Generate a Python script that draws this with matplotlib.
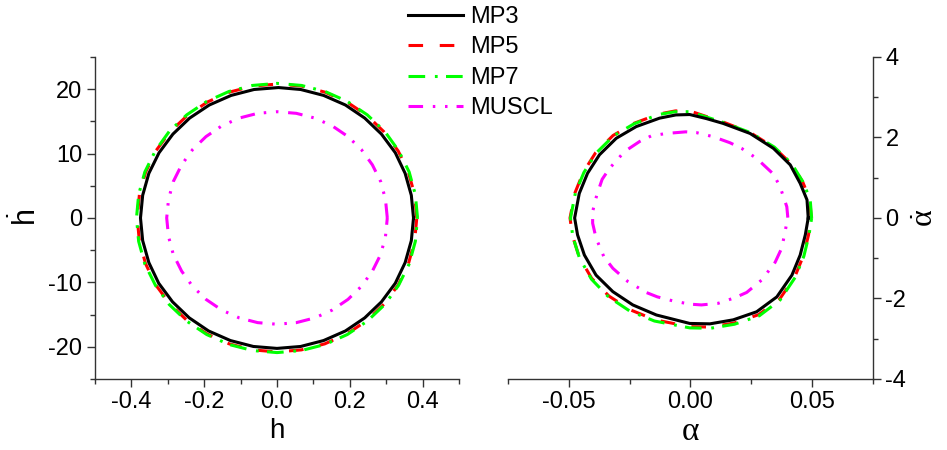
import matplotlib
matplotlib.use("Agg")
import matplotlib.pyplot as plt
from matplotlib.ticker import MultipleLocator, FixedLocator

plt.rcParams['font.family'] = ['Liberation Sans', 'DejaVu Sans']
plt.rcParams['axes.unicode_minus'] = False
plt.rcParams['lines.scale_dashes'] = False
plt.rcParams['mathtext.fontset'] = 'custom'
plt.rcParams['mathtext.rm'] = 'Liberation Sans'
plt.rcParams['mathtext.it'] = 'Liberation Serif'

# ---- left panel: h vs h-dot ----
h_mp3 = [0.375, 0.369, 0.352, 0.325, 0.287, 0.241, 0.188, 0.128, 0.065,
         0.004, -0.063, -0.126, -0.186, -0.240, -0.286, -0.324, -0.352, -0.369,
         -0.375, -0.369, -0.352, -0.325, -0.287, -0.241, -0.188, -0.128, -0.065,
         0.000, 0.065, 0.128, 0.188, 0.241, 0.287, 0.325, 0.352, 0.369]
hd_mp3 = [0.0, 3.52, 6.93, 10.13, 13.02, 15.51, 17.54, 19.03, 19.95,
          20.25, 19.95, 19.03, 17.54, 15.51, 13.02, 10.13, 6.93, 3.52,
          0.0, -3.52, -6.93, -10.13, -13.02, -15.51, -17.54, -19.03, -19.95,
          -20.25, -19.95, -19.03, -17.54, -15.51, -13.02, -10.13, -6.93, -3.52]
h_mp5 = [0.384, 0.378, 0.361, 0.333, 0.294, 0.247, 0.192, 0.131, 0.067,
         0.002, -0.066, -0.130, -0.191, -0.246, -0.294, -0.333, -0.361, -0.378,
         -0.384, -0.378, -0.361, -0.333, -0.294, -0.247, -0.192, -0.131, -0.067,
         0.000, 0.067, 0.131, 0.192, 0.247, 0.294, 0.333, 0.361, 0.378]
hd_mp5 = [0.0, 3.62, 7.11, 10.40, 13.37, 15.93, 18.01, 19.55, 20.48,
          20.8, 20.48, 19.55, 18.01, 15.93, 13.37, 10.40, 7.11, 3.62,
          0.0, -3.62, -7.11, -10.40, -13.37, -15.93, -18.01, -19.55, -20.48,
          -20.8, -20.48, -19.55, -18.01, -15.93, -13.37, -10.40, -7.11, -3.62]
h_mp7 = [0.386, 0.380, 0.363, 0.334, 0.296, 0.248, 0.193, 0.132, 0.067,
         0.000, -0.067, -0.132, -0.193, -0.248, -0.296, -0.334, -0.363, -0.380,
         -0.386, -0.380, -0.363, -0.334, -0.296, -0.248, -0.193, -0.132, -0.067,
         0.000, 0.067, 0.132, 0.193, 0.248, 0.296, 0.334, 0.363, 0.380]
hd_mp7 = [0.0, 3.64, 7.15, 10.45, 13.44, 16.01, 18.10, 19.64, 20.58,
          20.9, 20.58, 19.64, 18.10, 16.01, 13.44, 10.45, 7.15, 3.64,
          0.0, -3.64, -7.15, -10.45, -13.44, -16.01, -18.10, -19.64, -20.58,
          -20.9, -20.58, -19.64, -18.10, -16.01, -13.44, -10.45, -7.15, -3.64]
h_muscl = [0.303, 0.298, 0.285, 0.262, 0.232, 0.195, 0.152, 0.104, 0.053,
           0.000, -0.053, -0.104, -0.152, -0.195, -0.232, -0.262, -0.285, -0.298,
           -0.303, -0.298, -0.285, -0.262, -0.232, -0.195, -0.152, -0.104, -0.053,
           0.000, 0.053, 0.104, 0.152, 0.195, 0.232, 0.262, 0.285, 0.298]
hd_muscl = [0.0, 2.87, 5.64, 8.25, 10.61, 12.64, 14.29, 15.51, 16.25,
            16.5, 16.25, 15.51, 14.29, 12.64, 10.61, 8.25, 5.64, 2.87,
            0.0, -2.87, -5.64, -8.25, -10.61, -12.64, -14.29, -15.51, -16.25,
            -16.5, -16.25, -15.51, -14.29, -12.64, -10.61, -8.25, -5.64, -2.87]

# ---- right panel: alpha vs alpha-dot ----
a_mp3 = [0.0484, 0.0479, 0.0451, 0.0410, 0.0341, 0.0245, 0.0134, 0.0065, -0.0003, -0.0060, -0.0127,
         -0.0223, -0.0305, -0.0374, -0.0423, -0.0457, -0.0476, -0.0464, -0.0436, -0.0388, -0.0319,
         -0.0237, -0.0140, -0.0003, 0.0080, 0.0176, 0.0272, 0.0355, 0.0417, 0.0451, 0.0472]
ad_mp3 = [0.00, 0.45, 0.86, 1.32, 1.73, 2.10, 2.35, 2.47, 2.57, 2.56, 2.48,
          2.27, 1.98, 1.57, 1.11, 0.61, 0.00, -0.42, -0.92, -1.42, -1.83,
          -2.16, -2.41, -2.62, -2.63, -2.53, -2.33, -1.96, -1.42, -0.92, -0.42]
a_mp5 = [0.0496, 0.0491, 0.0461, 0.0415, 0.0344, 0.0246, 0.0136, 0.0066, -0.0003, -0.0062, -0.0131,
         -0.0233, -0.0318, -0.0390, -0.0440, -0.0475, -0.0495, -0.0485, -0.0457, -0.0406, -0.0335,
         -0.0248, -0.0146, -0.0003, 0.0081, 0.0179, 0.0281, 0.0366, 0.0429, 0.0464, 0.0485]
ad_mp5 = [0.00, 0.46, 0.90, 1.34, 1.75, 2.12, 2.38, 2.52, 2.66, 2.66, 2.58,
          2.35, 2.05, 1.62, 1.14, 0.62, 0.00, -0.44, -0.97, -1.50, -1.94,
          -2.28, -2.53, -2.70, -2.71, -2.61, -2.40, -2.02, -1.46, -0.94, -0.43]
a_mp7 = [0.0498, 0.0492, 0.0462, 0.0416, 0.0345, 0.0247, 0.0136, 0.0065, -0.0004, -0.0063, -0.0131,
         -0.0232, -0.0316, -0.0388, -0.0438, -0.0473, -0.0493, -0.0484, -0.0457, -0.0407, -0.0337,
         -0.0250, -0.0148, -0.0003, 0.0082, 0.0181, 0.0283, 0.0368, 0.0431, 0.0466, 0.0487]
ad_mp7 = [0.00, 0.46, 0.90, 1.35, 1.76, 2.12, 2.37, 2.51, 2.64, 2.64, 2.57,
          2.34, 2.04, 1.61, 1.13, 0.62, 0.00, -0.45, -0.98, -1.52, -1.96,
          -2.31, -2.56, -2.73, -2.74, -2.64, -2.43, -2.04, -1.47, -0.95, -0.43]
a_muscl = [0.0400, 0.0396, 0.0368, 0.0341, 0.0272, 0.0210, 0.0162, 0.0093, 0.0025, -0.0019, -0.0099,
           -0.0161, -0.0209, -0.0271, -0.0333, -0.0363, -0.0385, -0.0402, -0.0402, -0.0388, -0.0356,
           -0.0319, -0.0257, -0.0182, -0.0136, -0.0072, -0.0003, 0.0045, 0.0114, 0.0183, 0.0231,
           0.0293, 0.0348, 0.0375, 0.0389]
ad_muscl = [0.02, 0.28, 0.78, 1.09, 1.48, 1.73, 1.87, 2.02, 2.12, 2.14, 2.10,
            2.04, 1.90, 1.65, 1.23, 0.96, 0.57, 0.16, -0.13, -0.50, -0.96,
            -1.25, -1.58, -1.85, -1.96, -2.06, -2.14, -2.16, -2.12, -1.98, -1.85,
            -1.54, -1.10, -0.75, -0.34]

labels = ["MP3", "MP5", "MP7", "MUSCL"]
styles = [
    dict(color="black", lw=2.2, ls="-"),
    dict(color="#ff0000", lw=2.2, dashes=(10.5, 12)),
    dict(color="#00ff00", lw=2.2, dashes=(12, 7, 2, 6)),
    dict(color="#ff00ff", lw=2.2, dashes=(10.5, 7, 1.8, 7, 1.8, 6.5)),
]


def closed(xs, ys):
    return list(xs) + [xs[0]], list(ys) + [ys[0]]


fig = plt.figure(figsize=(9.47, 4.5), dpi=100)
ax1 = fig.add_axes([0.1003, 0.1578, 0.3844, 0.7156])
ax2 = fig.add_axes([0.5364, 0.1578, 0.3854, 0.7156])

left = [(h_mp3, hd_mp3), (h_mp5, hd_mp5), (h_mp7, hd_mp7), (h_muscl, hd_muscl)]
right = [(a_mp3, ad_mp3), (a_mp5, ad_mp5), (a_mp7, ad_mp7), (a_muscl, ad_muscl)]

lines = []
for (x, y), st, lab in zip(left, styles, labels):
    xs, ys = closed(x, y)
    ln, = ax1.plot(xs, ys, label=lab, dash_capstyle="butt", solid_joinstyle="round",
                   dash_joinstyle="round", **st)
    lines.append(ln)
for (x, y), st in zip(right, styles):
    xs, ys = closed(x, y)
    ax2.plot(xs, ys, dash_capstyle="butt", solid_joinstyle="round",
             dash_joinstyle="round", **st)

# solid line on top
for ax in (ax1, ax2):
    ax.get_lines()[0].set_zorder(4)

ax1.set_xlim(-0.5, 0.5)
ax1.set_ylim(-25, 25)
ax1.xaxis.set_major_locator(FixedLocator([-0.4, -0.2, 0.0, 0.2, 0.4]))
ax1.xaxis.set_minor_locator(MultipleLocator(0.1))
ax1.yaxis.set_major_locator(FixedLocator([-20, -10, 0, 10, 20]))
ax1.yaxis.set_minor_locator(MultipleLocator(5))
ax1.set_xticklabels(["-0.4", "-0.2", "0.0", "0.2", "0.4"])
ax1.spines[["top", "right"]].set_visible(False)
ax1.set_xlabel("h", fontsize=20, labelpad=3)
ax1.set_ylabel(r"$\dot{\mathrm{h}}$", fontsize=22, labelpad=4)

ax2.set_xlim(-0.075, 0.075)
ax2.set_ylim(-4, 4)
ax2.xaxis.set_major_locator(FixedLocator([-0.05, 0.0, 0.05]))
ax2.xaxis.set_minor_locator(MultipleLocator(0.025))
ax2.set_xticklabels(["-0.05", "0.00", "0.05"])
ax2.yaxis.set_major_locator(FixedLocator([-4, -2, 0, 2, 4]))
ax2.yaxis.set_minor_locator(MultipleLocator(1))
ax2.yaxis.tick_right()
ax2.yaxis.set_label_position("right")
ax2.spines[["top", "left"]].set_visible(False)
ax2.set_xlabel(r"$\alpha$", fontsize=24, labelpad=2)
ax2.set_ylabel(r"$\dot{\alpha}$", fontsize=23, rotation=90, labelpad=3)

for ax in (ax1, ax2):
    for sp in ax.spines.values():
        sp.set_linewidth(1.0)
        sp.set_color("#333333")
    ax.tick_params(which="major", direction="out", length=6, width=1, labelsize=17, pad=3, color="#333333")
    ax.tick_params(which="minor", direction="out", length=3.5, width=1, color="#333333")

fig.legend(handles=lines, labels=labels, loc="upper left", bbox_to_anchor=(0.428, 0.992),
           frameon=False, fontsize=17, handlelength=2.35, handletextpad=0.3,
           labelspacing=0.36, borderpad=0.1, borderaxespad=0)

fig.savefig("out.png", dpi=100)
